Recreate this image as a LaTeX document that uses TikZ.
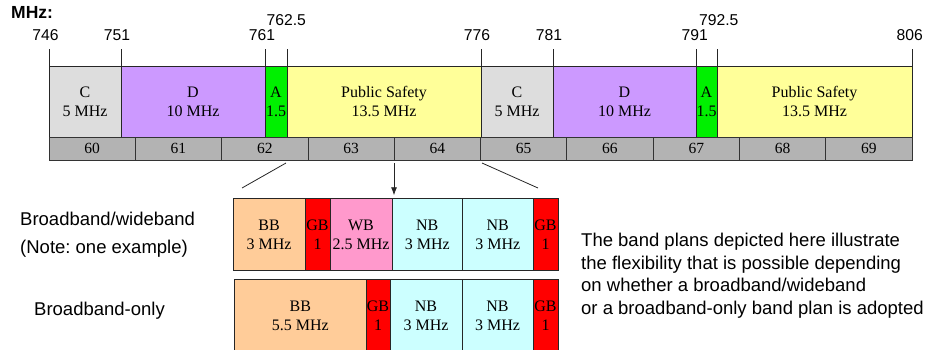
\documentclass[tikz,border=0pt]{standalone}
\usepackage{fontspec}
\setmainfont{Liberation Serif}
\setsansfont{Liberation Sans}
\usetikzlibrary{arrows.meta}
\frenchspacing

\definecolor{bandC}{HTML}{DDDDDD}
\definecolor{bandD}{HTML}{CC99FF}
\definecolor{bandA}{HTML}{00F000}
\definecolor{bandPS}{HTML}{FFFF99}
\definecolor{chanGray}{HTML}{B3B3B3}
\definecolor{subBB}{HTML}{FFCC99}
\definecolor{subGB}{HTML}{FF0000}
\definecolor{subWB}{HTML}{FF99CC}
\definecolor{subNB}{HTML}{CCFFFF}

\begin{document}
\begin{tikzpicture}[x=1pt, y=-1pt,
  seg/.style={draw=black!85, line width=0.8pt, inner sep=0pt, outer sep=0pt, align=center, minimum height=71.3pt, font=\fontsize{16}{19}\selectfont},
  sub/.style={seg, minimum height=72.4pt},
  chan/.style={draw=black!80, line width=0.8pt, fill=chanGray, inner sep=0pt, outer sep=0pt, minimum width=86.3pt, minimum height=22.7pt, font=\fontsize{15.5}{18}\selectfont},
  freq/.style={anchor=base, inner sep=0pt, font=\sffamily\fontsize{15.7}{18}\selectfont},
  lbl/.style={inner sep=0pt, align=left, font=\sffamily\fontsize{18.5}{28}\selectfont},
  tick/.style={draw=black!85, line width=0.8pt},
  arr/.style={-{Latex[length=8pt,width=6pt]}, line width=0.8pt, draw=black!85}
]
\useasboundingbox (0,0) rectangle (925,349);

% 700 MHz band, upper row
\node[seg, fill=bandC, minimum width=72pt] (c1) at (85,101.65) {C\\5 MHz};
\node[seg, fill=bandD, minimum width=144pt] (d1) at (193,101.65) {D\\10 MHz};
\node[seg, fill=bandA, minimum width=22pt] (a1) at (276,101.65) {A\\1.5};
\node[seg, fill=bandPS, minimum width=194pt] (ps1) at (384,101.65) {Public Safety\\13.5 MHz};
\node[seg, fill=bandC, minimum width=72pt] (c2) at (517,101.65) {C\\5 MHz};
\node[seg, fill=bandD, minimum width=143pt] (d2) at (624.5,101.65) {D\\10 MHz};
\node[seg, fill=bandA, minimum width=21pt] (a2) at (706.5,101.65) {A\\1.5};
\node[seg, fill=bandPS, minimum width=195pt] (ps2) at (814.5,101.65) {Public Safety\\13.5 MHz};

% TV channels
\foreach \ch [count=\i from 0] in {60,...,69}
  \node[chan] (ch\ch) at ({92.15+\i*86.3},148.65) {\ch};

% band edges
\foreach \n in {c1,d1,a1,ps1,c2,d2,a2,ps2}
  \draw[tick] (\n.north west) -- ++(0,-17);
\draw[tick] (ps2.north east) -- ++(0,-17);

\node[anchor=base west, inner sep=0pt, font=\sffamily\bfseries\fontsize{17.5}{20}\selectfont] (unit) at (11,18.3) {MHz:};
\foreach \f/\x/\y [count=\k] in {746/45.5/40.7, 751/117/40.7, 761/262/40.7, 762.5/286.3/25, 776/477/40.7, 781/549/40.7, 791/694.7/40.7, 792.5/718.8/25, 806/909.7/40.7}
  \node[freq] (f\k) at (\x,\y) {\f};

% zoom onto the public safety block
\coordinate (cutL) at (286,163);
\coordinate (cutLend) at (242,188);
\coordinate (cutR) at (482,163);
\coordinate (cutRend) at (538,188);
\coordinate (arrtop) at (394,163);

% broadband/wideband plan
\node[sub, fill=subBB, minimum width=72pt] (bb1) at (269,234.5) {BB\\3 MHz};
\node[sub, fill=subGB, minimum width=25pt] (gb1) at (317.5,234.5) {GB\\1};
\node[sub, fill=subWB, minimum width=62pt] (wb1) at (361,234.5) {WB\\2.5 MHz};
\node[sub, fill=subNB, minimum width=70.5pt] (nb1) at (427.25,234.5) {NB\\3 MHz};
\node[sub, fill=subNB, minimum width=70.5pt] (nb2) at (497.75,234.5) {NB\\3 MHz};
\node[sub, fill=subGB, minimum width=25pt] (gb2) at (545.5,234.5) {GB\\1};

% broadband-only plan
\node[sub, fill=subBB, minimum width=131.4pt] (bb2) at (300.3,315.5) {BB\\5.5 MHz};
\node[sub, fill=subGB, minimum width=24pt] (gb3) at (378,315.5) {GB\\1};
\node[sub, fill=subNB, minimum width=72pt] (nb3) at (426,315.5) {NB\\3 MHz};
\node[sub, fill=subNB, minimum width=71pt] (nb4) at (497.5,315.5) {NB\\3 MHz};
\node[sub, fill=subGB, minimum width=25pt] (gb4) at (545.5,315.5) {GB\\1};

\draw[tick] (cutL) -- (cutLend);
\draw[tick] (cutR) -- (cutRend);
\draw[arr, shorten >=3pt] (arrtop) -- (arrtop |- wb1.north);

\node[lbl, anchor=north west] (bwlbl) at (20,212) {Broadband/wideband\\(Note: one example)};
\node[lbl, anchor=base west] (bolbl) at (34,315) {Broadband-only};
\node[lbl, anchor=north west, font=\sffamily\fontsize{18.5}{22.5}\selectfont] (note) at (581,233)
  {The band plans depicted here illustrate\\the flexibility that is possible depending\\on whether a broadband/wideband\\or a broadband-only band plan is adopted};
\end{tikzpicture}
\end{document}
